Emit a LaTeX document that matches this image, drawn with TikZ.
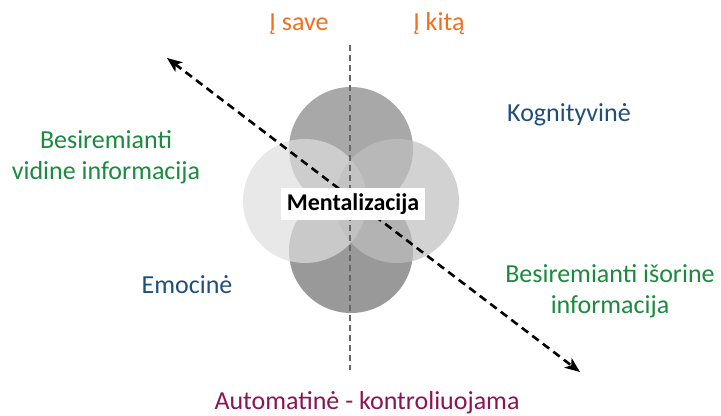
\documentclass[tikz,border=0pt]{standalone}
\usepackage{fontspec}
\setmainfont{Carlito}
\usepackage{tikz}
\usetikzlibrary{arrows.meta, positioning}

\definecolor{labelorange}{HTML}{F26E1D}
\definecolor{labelgreen}{HTML}{1B8A3E}
\definecolor{labelblue}{HTML}{1F4E7A}
\definecolor{labelplum}{HTML}{8C1452}

\begin{document}
\begin{tikzpicture}[
    x=0.5pt, y=-0.5pt,
    lbl/.style={align=center, font=\fontsize{13}{15.5}\selectfont},
    petal/.style={circle, minimum size=62pt, inner sep=0pt},
    axis/.style={black!60, line width=0.75pt, dash pattern=on 3pt off 2pt},
    arrow/.style={<->, >={Stealth[length=7.5pt, width=6pt, inset=2pt]}, line width=1.3pt, dash pattern=on 4pt off 2.6pt}
]
\useasboundingbox (0,0) rectangle (721,416);

% the four circles
\node[petal, fill=black!34] (ctop) at (351,149) {};
\node[petal, fill=black!40] (cbot) at (351,251) {};
\node[petal, fill=black!13, fill opacity=0.7] (cleft) at (305,201) {};
\node[petal, fill=black!25, fill opacity=0.7] (cright) at (397,201) {};

% axes
\coordinate (vtop) at (350,45);
\coordinate (vbot) at (350,370);
\draw[axis] (vtop) -- (vbot);

\coordinate (ul) at (167,58);
\coordinate (lr) at (580,372);
\draw[arrow] (ul) -- (lr);

\node[fill=white, inner sep=3pt, minimum height=14pt, font=\fontsize{12}{14}\selectfont\bfseries] (ment) at (353,204) {Mentalizacija};

% labels
\node[lbl, text=labelorange] (save) at (299,24) {Į save};
\node[lbl, text=labelorange] (kita) at (439,24) {Į kitą};
\node[lbl, text=labelblue] (kogn) at (569,115) {Kognityvinė};
\node[lbl, text=labelgreen] (vidine) at (106,157) {Besiremianti\\vidine informacija};
\node[lbl, text=labelblue] (emocine) at (187,285) {Emocinė};
\node[lbl, text=labelgreen] (isorine) at (610,291) {Besiremianti išorine\\informacija};
\node[lbl, text=labelplum] (autom) at (367,403) {Automatinė - kontroliuojama};

\end{tikzpicture}
\end{document}
